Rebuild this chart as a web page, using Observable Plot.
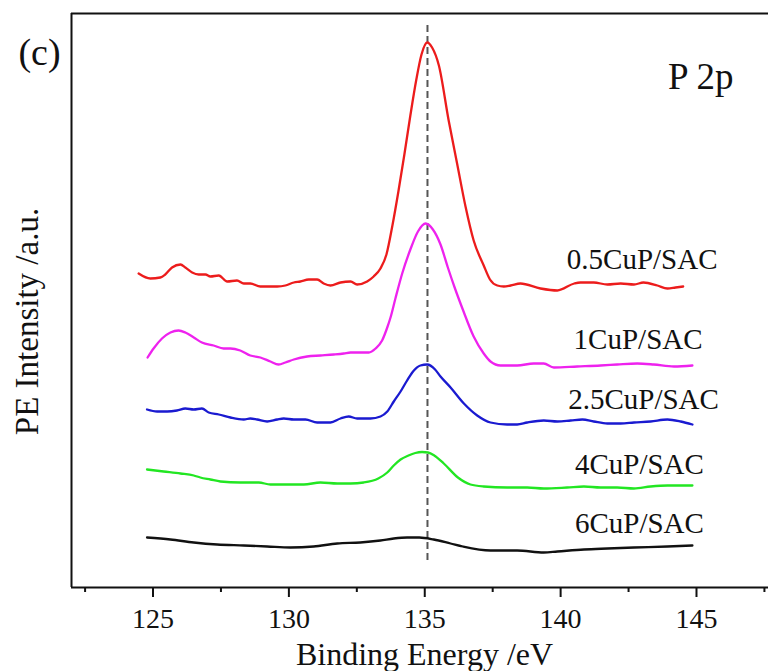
<!DOCTYPE html>
<html>
<head>
<meta charset="utf-8">
<script src="https://cdn.jsdelivr.net/npm/d3@7"></script>
<script src="https://cdn.jsdelivr.net/npm/@observablehq/plot@0.6"></script>
<style>
  html, body { margin: 0; padding: 0; background: #fff; }
  #chart svg { display: block; }
  #chart svg, #chart svg text { font-family: "Liberation Serif", "Times New Roman", serif !important; }
</style>
</head>
<body>
<div id="chart"></div>
<script>
// ---- data (binding energy in eV, intensity in a.u.) ----
const seriesNames = ["0.5CuP/SAC", "1CuP/SAC", "2.5CuP/SAC", "4CuP/SAC", "6CuP/SAC"];
const seriesColors = ["#ec1c1c", "#ee22ee", "#1a1ad0", "#22e622", "#111111"];

const energy05 = [124.47,124.90,125.27,125.45,125.70,126.01,126.19,126.44,126.68,126.93,127.11,127.42,127.73,128.09,128.34,128.58,128.95,129.57,129.87,130.18,130.42,130.73,131.04,131.28,131.53,131.90,132.27,132.51,132.88,133.12,133.37,133.59,133.81,134.03,134.25,134.47,134.69,134.88,135.09,135.27,135.52,135.88,136.19,136.50,136.80,137.17,137.40,137.67,137.91,138.16,138.52,139.26,139.88,140.50,140.73,141.22,141.72,142.21,142.70,143.05,143.56,143.93,144.23,144.51];
const intensity05 = [314,309,310,313,320,323,320,315,313,313,311,312,306,307,304,304,301,301,302,305,306,308,308,304,302,305,306,303,306,311,319,333,362,396,433,472,508,533,545,540,522,467,424,381,347,322,308,302,301,302,304,299,297,304,305,305,303,304,303,305,302,299,300,301];

const energy1 = [124.80,125.02,125.33,125.64,125.94,126.19,126.50,126.80,127.23,127.60,127.85,128.21,128.58,128.95,129.32,129.62,129.87,130.18,130.67,131.16,131.65,132.02,132.27,132.63,132.94,133.19,133.43,133.62,133.74,133.92,134.17,134.47,134.75,135.03,135.30,135.58,135.85,136.10,136.40,136.80,137.17,137.42,137.79,138.40,139.01,139.38,139.75,140.61,141.47,142.08,142.82,143.43,144.17,144.85];
const intensity1 = [230,239,249,255,257,255,250,245,242,239,239,237,232,230,226,223,225,228,231,232,233,234,235,235,235,239,247,260,270,289,314,338,356,364,358,343,320,300,278,251,234,226,222,222,224,224,220,221,222,223,224,223,221,222];

const energy25 = [124.78,125.15,125.52,125.88,126.19,126.50,126.80,127.05,127.42,127.85,128.34,128.58,128.83,129.20,129.57,129.81,130.18,130.61,131.04,131.53,131.90,132.20,132.51,133.00,133.37,133.62,133.86,134.11,134.35,134.60,134.84,135.09,135.38,135.58,135.95,136.44,136.93,137.42,138.03,138.40,138.77,139.38,139.88,140.37,140.80,141.22,141.72,142.21,142.70,143.31,143.93,144.42,144.85];
const intensity25 = [178,176,176,177,179,178,179,175,173,170,168,169,168,166,168,169,168,168,165,165,169,171,169,169,171,176,186,196,207,217,222,223,218,211,200,184,172,165,163,163,165,167,166,167,168,166,164,164,165,166,168,166,163];

const energy4 = [124.78,125.39,126.01,126.50,126.74,127.11,127.48,128.21,128.89,129.32,130.06,130.55,131.16,131.78,132.27,132.75,133.29,133.62,133.86,134.11,134.40,134.65,134.90,135.12,135.35,135.70,136.22,136.68,137.17,138.03,138.77,139.38,140.24,140.86,141.47,142.08,142.70,143.31,143.93,144.85];
const intensity4 = [118,116,114,112,110,108,106,105,105,103,103,103,105,104,104,105,109,115,122,128,132,134.5,135.5,135,132,124,110,103,101,100,100,99,100,101,100,100,99,101,102,102];

const energy6 = [124.78,125.64,126.50,127.36,128.34,129.20,130.06,130.91,131.78,132.63,133.37,133.86,134.35,134.80,135.33,135.95,136.40,137.42,138.40,139.38,139.88,140.86,141.72,142.70,143.93,144.85];
const intensity6 = [50,48,45,43,42,41,40,41,44,45,47,49,50,50,48,44,41,37,37,35,36,38,39,40,41,42];

// label anchors (energy, intensity at text baseline)
const labelEnergy = [143.0, 142.85, 143.05, 142.9, 142.9];
const labelIntensity = [319, 239, 179, 114, 55];

// reference line at P 2p peak
const peakEnergy = 135.1;
const peakLineRange = [27, 565];

const majorTicks = [125, 130, 135, 140, 145];
const minorTicks = [122.5, 127.5, 132.5, 137.5, 142.5, 147.5];
const xDomain = [122, 147.65];
const yDomain = [0, 574];

// ---- build tables ----
const energies = [energy05, energy1, energy25, energy4, energy6];
const intensities = [intensity05, intensity1, intensity25, intensity4, intensity6];
const rows = [];
seriesNames.forEach((name, k) => {
  energies[k].forEach((e, i) => rows.push({series: name, energy: e, intensity: intensities[k][i]}));
});
const labels = seriesNames.map((name, k) => ({series: name, energy: labelEnergy[k], intensity: labelIntensity[k]}));

const serif = "Liberation Serif, Times New Roman, serif";

const chart = Plot.plot({
  width: 768,
  height: 671,
  marginLeft: 71,
  marginRight: 0,
  marginTop: 13,
  marginBottom: 84,
  style: {fontFamily: serif, background: "#fff", color: "#111"},
  x: {domain: xDomain},
  y: {domain: yDomain, axis: null},
  color: {domain: seriesNames, range: seriesColors},
  marks: [
    // frame: left, top and bottom lines
    Plot.ruleX([xDomain[0]], {stroke: "#111", strokeWidth: 2}),
    Plot.ruleY([yDomain[0]], {stroke: "#111", strokeWidth: 2}),
    Plot.ruleY([yDomain[1]], {stroke: "#111", strokeWidth: 2}),
    // x axis
    Plot.axisX({ticks: majorTicks, tickSize: 10, tickPadding: 11, fontSize: 28, strokeWidth: 2, stroke: "#111", fill: "#111", label: null, tickFormat: d => String(d)}),
    Plot.axisX({ticks: minorTicks.filter(t => t <= xDomain[1]), tickSize: 5, strokeWidth: 2, stroke: "#111", text: null, label: null}),
    // dashed reference line
    Plot.ruleX([peakEnergy], {y1: peakLineRange[0], y2: peakLineRange[1], stroke: "#555", strokeWidth: 2, strokeDasharray: "7,4"}),
    // spectra
    Plot.line(rows, {x: "energy", y: "intensity", z: "series", stroke: "series", strokeWidth: 2.3, curve: "monotone-x"}),
    // series labels
    Plot.text(labels, {x: "energy", y: "intensity", text: "series", fontSize: 29, lineAnchor: "bottom", textAnchor: "middle", fill: "#111"}),
    // annotations
    Plot.text(["P 2p"], {frameAnchor: "top-right", dx: -35, dy: 75, lineAnchor: "bottom", textAnchor: "end", fontSize: 37, fill: "#111"}),
    Plot.text(["(c)"], {frameAnchor: "top-left", dx: -32, dy: 51, lineAnchor: "bottom", textAnchor: "middle", fontSize: 38, fill: "#111"}),
    Plot.text(["Binding Energy /eV"], {frameAnchor: "bottom", dx: 4.5, dy: 77, lineAnchor: "bottom", textAnchor: "middle", fontSize: 32, fill: "#111"}),
    Plot.text(["PE Intensity /a.u."], {frameAnchor: "left", dx: -34, dy: 21, rotate: -90, lineAnchor: "bottom", textAnchor: "middle", fontSize: 33, fill: "#111"})
  ]
});
document.getElementById("chart").appendChild(chart);
</script>
</body>
</html>
